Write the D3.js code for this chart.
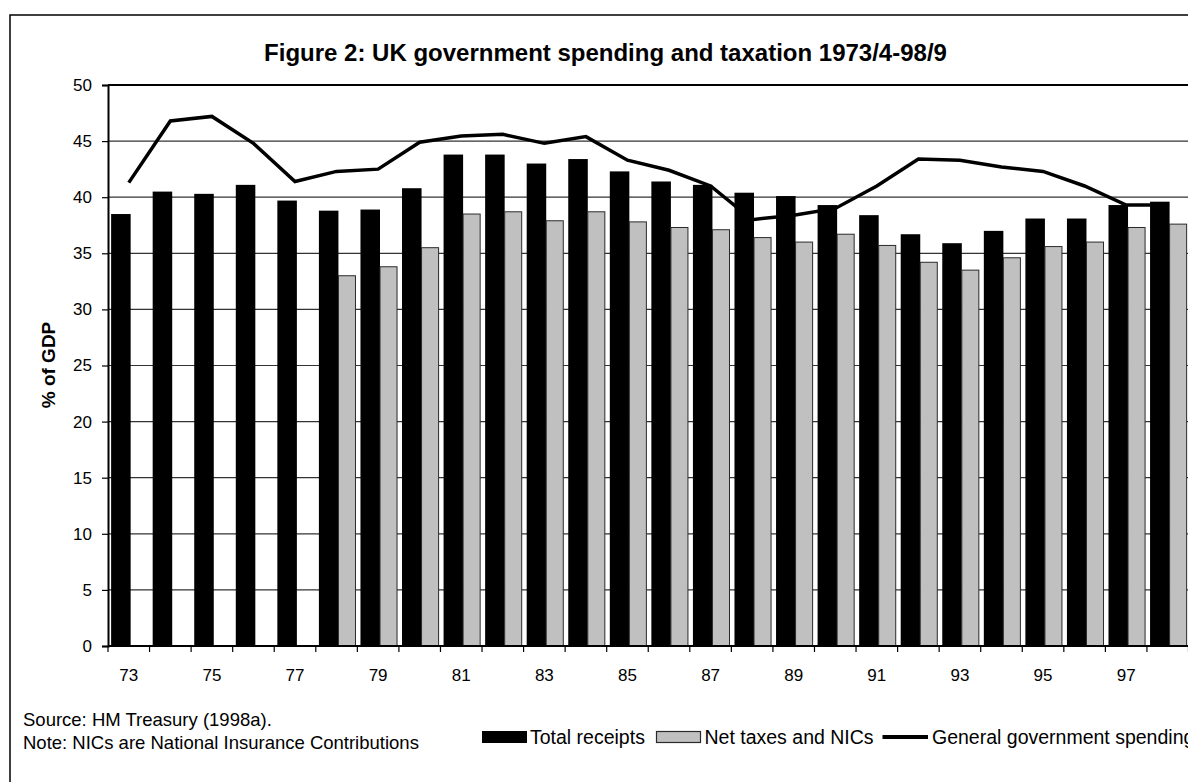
<!DOCTYPE html>
<html>
<head>
<meta charset="utf-8">
<script src="https://cdn.jsdelivr.net/npm/d3@7"></script>
<style>
  html, body { margin: 0; padding: 0; background: #fff; }
  svg { display: block; font-family: "Liberation Sans", Arial, sans-serif; }
</style>
</head>
<body>
<svg id="chart" width="1188" height="782"></svg>
<script>
// ---- data ----
const years = ["73","74","75","76","77","78","79","80","81","82","83","84","85","86","87","88","89","90","91","92","93","94","95","96","97","98"];
const tickLabels = ["73","75","77","79","81","83","85","87","89","91","93","95","97"];
const yTicks = [0,5,10,15,20,25,30,35,40,45,50];
const totalReceipts = [38.5,40.5,40.3,41.1,39.7,38.8,38.9,40.8,43.8,43.8,43.0,43.4,42.3,41.4,41.1,40.4,40.1,39.3,38.4,36.7,35.9,37.0,38.1,38.1,39.3,39.6];
const netTaxes = [null,null,null,null,null,33.0,33.8,35.5,38.5,38.7,37.9,38.7,37.8,37.3,37.1,36.4,36.0,36.7,35.7,34.2,33.5,34.6,35.6,36.0,37.3,37.6];
const spending = [41.3,46.8,47.2,44.8,41.4,42.3,42.5,44.9,45.45,45.6,44.8,45.4,43.3,42.4,41.0,38.0,38.4,39.0,41.0,43.4,43.3,42.7,42.3,41.0,39.3,39.3];
const seriesNames = ["Total receipts","Net taxes and NICs","General government spending"];
const title = "Figure 2: UK government spending and taxation 1973/4-98/9";
const yTitle = "% of GDP";
const sourceLines = ["Source: HM Treasury (1998a).","Note: NICs are National Insurance Contributions"];

// ---- layout ----
const svg = d3.select("#chart");
const plot = { left: 108, right: 1188.5, top: 85, bottom: 646 };

const x = d3.scaleBand().domain(years).range([plot.left, plot.right]).padding(0);
const y = d3.scaleLinear().domain([0, 50]).range([plot.bottom, plot.top]);
const bw = x.bandwidth();

// outer frame
svg.append("rect").attr("x", 10).attr("y", 15).attr("width", 1300).attr("height", 900)
  .attr("fill", "none").attr("stroke", "#000").attr("stroke-width", 1.5);

// title
svg.append("text").attr("x", 605.5).attr("y", 61).attr("text-anchor", "middle")
  .attr("font-size", 24).attr("font-weight", "bold").text(title);

// gridlines
svg.append("g").selectAll("line").data(yTicks.filter(d => d > 0)).join("line")
  .attr("x1", plot.left).attr("x2", plot.right)
  .attr("y1", d => y(d)).attr("y2", d => y(d))
  .attr("stroke", d => d === 50 ? "#000" : "#333")
  .attr("stroke-width", d => d === 50 ? 2 : 1.2);

// bars
const blackOff = 0.075 * bw, blackW = 0.47 * bw, grayW = 0.41 * bw;
svg.append("g").selectAll("rect").data(years.map((yr, i) => ({ yr, v: totalReceipts[i] }))).join("rect")
  .attr("x", d => x(d.yr) + blackOff).attr("width", blackW)
  .attr("y", d => y(d.v)).attr("height", d => y(0) - y(d.v))
  .attr("fill", "#000");
svg.append("g").selectAll("rect").data(years.map((yr, i) => ({ yr, v: netTaxes[i] })).filter(d => d.v != null)).join("rect")
  .attr("x", d => x(d.yr) + blackOff + blackW).attr("width", grayW)
  .attr("y", d => y(d.v)).attr("height", d => y(0) - y(d.v))
  .attr("fill", "#c0c0c0").attr("stroke", "#2a2a2a").attr("stroke-width", 1);

// line
const line = d3.line().x((d, i) => x(years[i]) + bw / 2).y(d => y(d));
svg.append("path").datum(spending).attr("d", line)
  .attr("fill", "none").attr("stroke", "#000").attr("stroke-width", 3.5)
  .attr("stroke-linejoin", "miter");

// y axis
const yAxis = d3.axisLeft(y).tickValues(yTicks).tickSize(6).tickPadding(10).tickFormat(d3.format("d"));
const gy = svg.append("g").attr("transform", `translate(${plot.left},0)`).call(yAxis);
gy.select(".domain").attr("stroke", "#000").attr("stroke-width", 2);
gy.selectAll(".tick line").attr("stroke", "#000").attr("stroke-width", 1.2);
gy.selectAll(".tick text").attr("font-size", 17).attr("fill", "#000")
  .attr("font-family", "Liberation Sans, Arial, sans-serif");

// x axis: ticks at category boundaries
const boundaries = years.map(yr => x(yr)).concat([plot.right]);
svg.append("g").selectAll("line").data(boundaries).join("line")
  .attr("x1", d => d).attr("x2", d => d).attr("y1", plot.bottom).attr("y2", plot.bottom + 6)
  .attr("stroke", "#000").attr("stroke-width", 1.2);
svg.append("line").attr("x1", plot.left).attr("x2", plot.right)
  .attr("y1", plot.bottom).attr("y2", plot.bottom).attr("stroke", "#000").attr("stroke-width", 2);
svg.append("g").selectAll("text").data(tickLabels).join("text")
  .attr("x", d => x(d) + bw / 2).attr("y", 681).attr("text-anchor", "middle")
  .attr("font-size", 17).text(d => d);

// y title
svg.append("text").attr("transform", "translate(55,365) rotate(-90)")
  .attr("text-anchor", "middle").attr("font-size", 19).attr("font-weight", "bold").text(yTitle);

// source / note
svg.append("g").selectAll("text").data(sourceLines).join("text")
  .attr("x", 23).attr("y", (d, i) => 726 + i * 23).attr("font-size", 18.5).text(d => d);

// legend
const lg = svg.append("g");
lg.append("rect").attr("x", 482).attr("y", 731).attr("width", 45).attr("height", 12).attr("fill", "#000");
lg.append("text").attr("x", 530).attr("y", 744).attr("font-size", 19.5).text(seriesNames[0]);
lg.append("rect").attr("x", 656.5).attr("y", 731.5).attr("width", 44).attr("height", 11)
  .attr("fill", "#c0c0c0").attr("stroke", "#2a2a2a").attr("stroke-width", 1.2);
lg.append("text").attr("x", 704.5).attr("y", 744).attr("font-size", 19.5).text(seriesNames[1]);
lg.append("line").attr("x1", 882.5).attr("x2", 928).attr("y1", 737).attr("y2", 737)
  .attr("stroke", "#000").attr("stroke-width", 4);
lg.append("text").attr("x", 932).attr("y", 744).attr("font-size", 19.5).text(seriesNames[2]);
</script>
</body>
</html>
